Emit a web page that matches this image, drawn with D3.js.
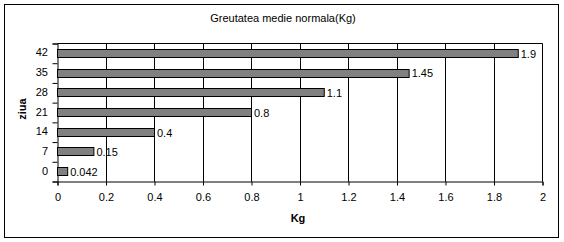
<!DOCTYPE html>
<html>
<head>
<meta charset="utf-8">
<script src="https://cdn.jsdelivr.net/npm/d3@7"></script>
<style>
  body { margin: 0; background: #fff; }
  svg text { font-family: "Liberation Sans", Arial, sans-serif; font-size: 11px; fill: #000; }
  .domain { stroke: #000; }
</style>
</head>
<body>
<div id="chart"></div>
<script>
// datele graficului
const zile = ["0", "7", "14", "21", "28", "35", "42"];
const greutate = [0.042, 0.15, 0.4, 0.8, 1.1, 1.45, 1.9];
const xTicks = [0, 0.2, 0.4, 0.6, 0.8, 1, 1.2, 1.4, 1.6, 1.8, 2];
const etichete = ["0.042", "0.15", "0.4", "0.8", "1.1", "1.45", "1.9"];

const W = 564, H = 242;
const plot = { left: 57, right: 542, top: 43, bottom: 181 };

const svg = d3.select("#chart").append("svg")
  .attr("width", W)
  .attr("height", H);

// chenar exterior
svg.append("rect")
  .attr("x", 4.5).attr("y", 4.5)
  .attr("width", 554).attr("height", 233)
  .attr("fill", "#fff")
  .attr("stroke", "#000");

const x = d3.scaleLinear().domain([0, 2]).range([plot.left, plot.right]);
const y = d3.scaleBand()
  .domain(zile)
  .range([plot.bottom, plot.top])
  .paddingInner(0.6)
  .paddingOuter(0.3);

// linii de grila verticale
svg.append("g")
  .selectAll("line")
  .data(xTicks.slice(1))
  .enter().append("line")
  .attr("x1", (d) => Math.round(x(d)) + 0.5)
  .attr("x2", (d) => Math.round(x(d)) + 0.5)
  .attr("y1", plot.top + 0.5)
  .attr("y2", plot.bottom + 0.5)
  .attr("stroke", "#000");

// linia de sus a zonei
svg.append("line")
  .attr("x1", plot.left + 0.5).attr("x2", Math.round(x(2)) + 0.5)
  .attr("y1", plot.top + 0.5).attr("y2", plot.top + 0.5)
  .attr("stroke", "#000");

// axa X
const xAxis = d3.axisBottom(x)
  .tickValues(xTicks)
  .tickSize(4)
  .tickPadding(8)
  .tickFormat((d) => String(d));

svg.append("g")
  .attr("transform", `translate(0.5, ${plot.bottom + 0.5})`)
  .call(xAxis)
  .call((g) => g.selectAll("text").style("font-size", "11px").attr("fill", "#000"))
  .call((g) => g.selectAll("line").attr("stroke", "#000"));

// axa Y - liniute la marginile categoriilor
const yLin = d3.scaleLinear().domain([0, zile.length]).range([plot.bottom, plot.top]);
svg.append("g")
  .attr("transform", `translate(${plot.left + 0.5}, 0.5)`)
  .call(d3.axisLeft(yLin).tickValues(d3.range(zile.length + 1)).tickSize(5).tickFormat(""))
  .call((g) => g.selectAll("line").attr("stroke", "#000"));

// axa Y - etichete
svg.append("g")
  .attr("transform", `translate(${plot.left}, 0)`)
  .call(d3.axisLeft(y).tickSize(0).tickPadding(9))
  .call((g) => g.select(".domain").remove())
  .call((g) => g.selectAll("text").style("font-size", "11px").attr("fill", "#000"));

// bare
svg.append("g")
  .selectAll("rect")
  .data(greutate)
  .enter().append("rect")
  .attr("x", x(0) + 0.5)
  .attr("y", (d, i) => Math.round(y(zile[i])) + 0.5)
  .attr("width", (d) => x(d) - x(0))
  .attr("height", Math.round(y.bandwidth()))
  .attr("fill", "#808080")
  .attr("stroke", "#000");

// etichete valori
svg.append("g")
  .selectAll("text")
  .data(greutate)
  .enter().append("text")
  .attr("x", (d) => x(d) + 3)
  .attr("y", (d, i) => y(zile[i]) + y.bandwidth() / 2 + 1)
  .attr("dy", "0.35em")
  .text((d, i) => etichete[i]);

// titlu
svg.append("text")
  .attr("x", 283)
  .attr("y", 18)
  .attr("dy", "0.35em")
  .attr("text-anchor", "middle")
  .text("Greutatea medie normala(Kg)");

svg.append("text")
  .attr("x", 298)
  .attr("y", 218)
  .attr("dy", "0.35em")
  .attr("text-anchor", "middle")
  .style("font-weight", "bold")
  .text("Kg");

svg.append("text")
  .attr("transform", "translate(22.5, 109) rotate(-90)")
  .attr("dy", "0.35em")
  .attr("text-anchor", "middle")
  .style("font-weight", "bold")
  .text("ziua");
</script>
</body>
</html>
